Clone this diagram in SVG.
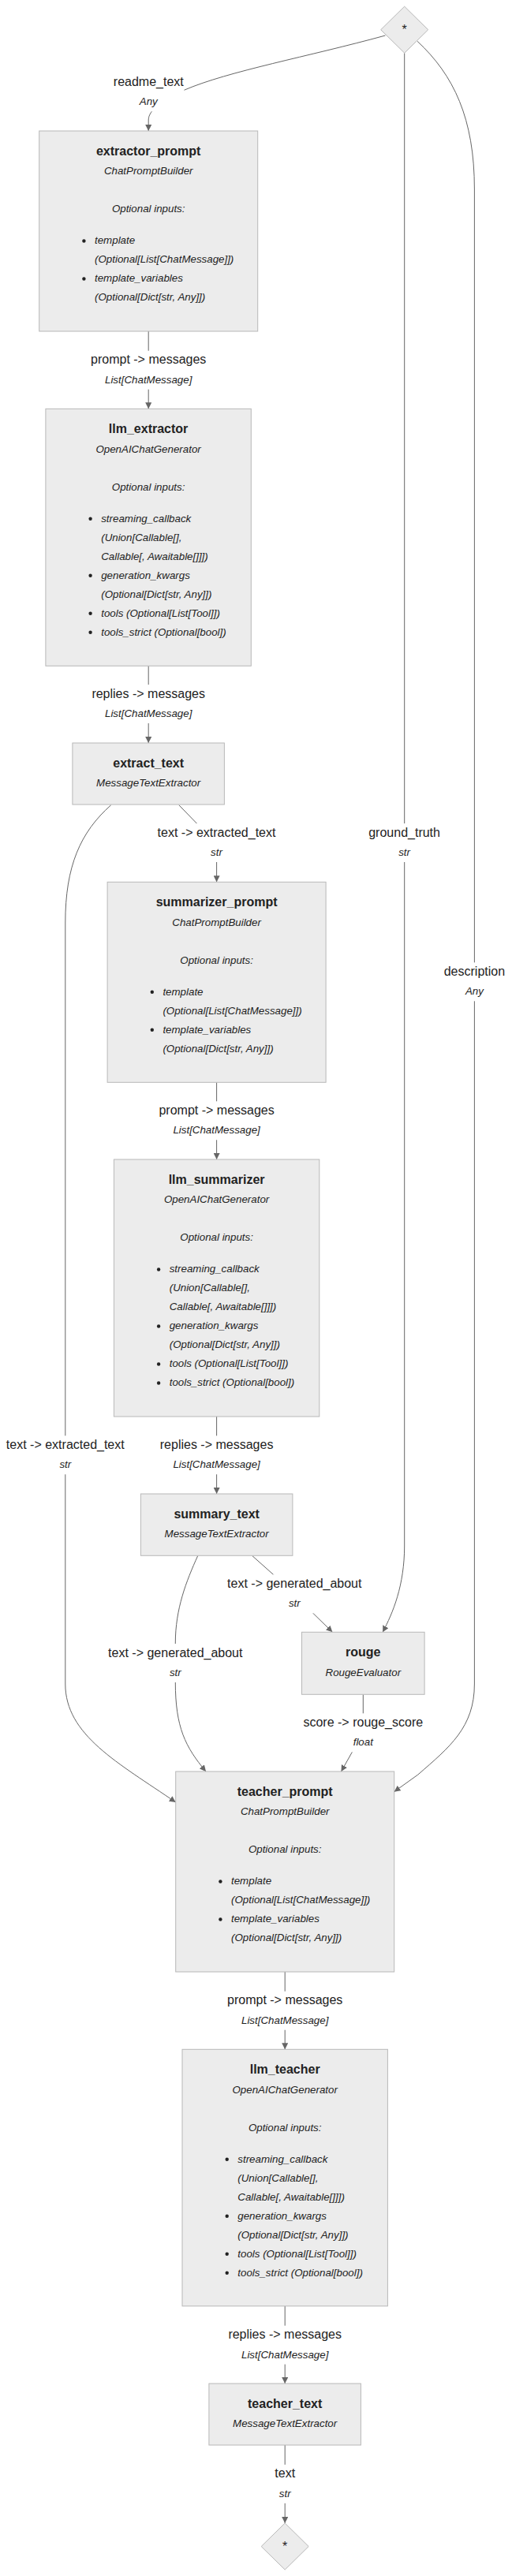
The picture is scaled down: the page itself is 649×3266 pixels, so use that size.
<svg xmlns="http://www.w3.org/2000/svg" width="649" height="3266" viewBox="0 0 649 3266">
<defs>
<style>
.box{fill:#ececec;stroke:#b8b8b8;stroke-width:1}
.edge{fill:none;stroke:#666;stroke-width:1}
.lb{fill:#fff}
text{font-family:"Liberation Sans",Arial,sans-serif;fill:#222}
.ti{font-size:16px;font-weight:bold;text-anchor:middle}
.su{font-size:13.33px;font-style:italic;text-anchor:middle}
.it{font-size:13.33px;font-style:italic}
.en{font-size:16px;text-anchor:middle}
.et{font-size:13.33px;font-style:italic;text-anchor:middle}
.st{font-size:16px;text-anchor:middle}
.bu{fill:#222}
</style>
<marker id="arr" viewBox="0 0 10 10" refX="10" refY="5" markerWidth="8" markerHeight="8" markerUnits="userSpaceOnUse" orient="auto">
<path d="M0,0 L10,5 L0,10 z" fill="#666"/>
</marker>
</defs>
<rect width="649" height="3266" fill="#fff"/>

<g id="connectors">
<path class="edge" marker-end="url(#arr)" d="M488.4,45 C390,72 290,90 234,114 C205,127 188.2,140 188.2,152 L188.2,166"/>
<path class="edge" marker-end="url(#arr)" d="M188.2,420 L188.2,518.3"/>
<path class="edge" marker-end="url(#arr)" d="M188.2,844.3 L188.2,942"/>
<path class="edge" marker-end="url(#arr)" d="M226.8,1020.7 L250.4,1045 Q274.6,1069 274.6,1093 L274.6,1118.3"/>
<path class="edge" marker-end="url(#arr)" d="M140.7,1020.7 C102,1055 82.8,1098 82.8,1170 L82.8,2135 C82.8,2200 150,2235 222.7,2285"/>
<path class="edge" marker-end="url(#arr)" d="M274.6,1372.3 L274.6,1470"/>
<path class="edge" marker-end="url(#arr)" d="M274.6,1796 L274.6,1894"/>
<path class="edge" marker-end="url(#arr)" d="M250.8,1972.3 C236,2005 222.3,2040 222.3,2083 L222.3,2133 C222.3,2190 235,2215 261,2246"/>
<path class="edge" marker-end="url(#arr)" d="M319.5,1972.3 L346.9,1996.7 L396.5,2045 L421.4,2069.3"/>
<path class="edge" marker-end="url(#arr)" d="M512.7,67.3 L512.7,1960 C512.7,2010 498,2045 485.1,2069.3"/>
<path class="edge" marker-end="url(#arr)" d="M460.3,2148.3 L460.3,2175 C460.3,2200 452,2210 446.2,2221.7 L432.5,2246"/>
<path class="edge" marker-end="url(#arr)" d="M529,52.3 C575,95 601.4,150 601.4,240 L601.4,2135 C601.4,2190 570,2215 529.8,2250 L499.6,2271.7"/>
<path class="edge" marker-end="url(#arr)" d="M361.2,2500 L361.2,2598.3"/>
<path class="edge" marker-end="url(#arr)" d="M361.2,2923.8 L361.2,3022"/>
<path class="edge" marker-end="url(#arr)" d="M361.2,3100 L361.2,3199"/>
</g>

<g id="edge-labels">
<rect class="lb" x="143.5" y="92.3" width="90" height="49"/>
<text class="en" x="188.3" y="108.8">readme_text</text>
<text class="et" x="188.3" y="133.2">Any</text>

<rect class="lb" x="114.7" y="444.7" width="147" height="49"/>
<text class="en" x="188.2" y="461.2">prompt -&gt; messages</text>
<text class="et" x="188.2" y="485.6">List[ChatMessage]</text>

<rect class="lb" x="116.2" y="868" width="144" height="49"/>
<text class="en" x="188.2" y="884.5">replies -&gt; messages</text>
<text class="et" x="188.2" y="908.9">List[ChatMessage]</text>

<rect class="lb" x="199" y="1044" width="151" height="49"/>
<text class="en" x="274.5" y="1060.5">text -&gt; extracted_text</text>
<text class="et" x="274.5" y="1084.9">str</text>

<rect class="lb" x="467.2" y="1044" width="91" height="49"/>
<text class="en" x="512.6" y="1060.5">ground_truth</text>
<text class="et" x="512.6" y="1084.9">str</text>

<rect class="lb" x="563" y="1220.3" width="77" height="49"/>
<text class="en" x="601.4" y="1236.8">description</text>
<text class="et" x="601.4" y="1261.2">Any</text>

<rect class="lb" x="201" y="1396.3" width="147" height="49"/>
<text class="en" x="274.6" y="1412.8">prompt -&gt; messages</text>
<text class="et" x="274.6" y="1437.2">List[ChatMessage]</text>

<rect class="lb" x="7.3" y="1820.3" width="151" height="49"/>
<text class="en" x="82.8" y="1836.8">text -&gt; extracted_text</text>
<text class="et" x="82.8" y="1861.2">str</text>

<rect class="lb" x="202.6" y="1820.3" width="144" height="49"/>
<text class="en" x="274.6" y="1836.8">replies -&gt; messages</text>
<text class="et" x="274.6" y="1861.2">List[ChatMessage]</text>

<rect class="lb" x="287.8" y="1996.3" width="171" height="49"/>
<text class="en" x="373.3" y="2012.8">text -&gt; generated_about</text>
<text class="et" x="373.3" y="2037.2">str</text>

<rect class="lb" x="136.8" y="2084" width="171" height="49"/>
<text class="en" x="222.3" y="2100.5">text -&gt; generated_about</text>
<text class="et" x="222.3" y="2124.9">str</text>

<rect class="lb" x="384.3" y="2172.3" width="152" height="49"/>
<text class="en" x="460.3" y="2188.8">score -&gt; rouge_score</text>
<text class="et" x="460.3" y="2213.2">float</text>

<rect class="lb" x="287.7" y="2524.7" width="147" height="49"/>
<text class="en" x="361.2" y="2541.2">prompt -&gt; messages</text>
<text class="et" x="361.2" y="2565.6">List[ChatMessage]</text>

<rect class="lb" x="289.2" y="2948.6" width="144" height="49"/>
<text class="en" x="361.2" y="2965.1">replies -&gt; messages</text>
<text class="et" x="361.2" y="2989.5">List[ChatMessage]</text>

<rect class="lb" x="347" y="3124.8" width="28" height="49"/>
<text class="en" x="361.2" y="3141.3">text</text>
<text class="et" x="361.2" y="3165.7">str</text>
</g>

<g id="input">
<polygon class="box" points="512.7,8.2 542.7,37.7 512.7,67.2 482.7,37.7"/>
<text class="st" x="512.7" y="43.3">*</text>
</g>

<g id="extractor_prompt">
<rect class="box" x="49.7" y="166" width="277" height="254"/>
<text class="ti" x="188.2" y="197">extractor_prompt</text>
<text class="su" x="188.2" y="221.2">ChatPromptBuilder</text>
<text class="su" x="188.2" y="269.3">Optional inputs:</text>
<circle class="bu" cx="106.4" cy="305.5" r="2.2"/>
<text class="it" x="120" y="309.3">template</text>
<text class="it" x="120" y="333.3">(Optional[List[ChatMessage]])</text>
<circle class="bu" cx="106.4" cy="353.5" r="2.2"/>
<text class="it" x="120" y="357.3">template_variables</text>
<text class="it" x="120" y="381.3">(Optional[Dict[str, Any]])</text>
</g>

<g id="llm_extractor">
<rect class="box" x="57.9" y="518.3" width="260.4" height="326"/>
<text class="ti" x="188.1" y="549.3">llm_extractor</text>
<text class="su" x="188.1" y="573.5">OpenAIChatGenerator</text>
<text class="su" x="188.1" y="621.6">Optional inputs:</text>
<circle class="bu" cx="114.6" cy="657.8" r="2.2"/>
<text class="it" x="128.2" y="661.6">streaming_callback</text>
<text class="it" x="128.2" y="685.6">(Union[Callable[],</text>
<text class="it" x="128.2" y="709.6">Callable[, Awaitable[]]])</text>
<circle class="bu" cx="114.6" cy="729.8" r="2.2"/>
<text class="it" x="128.2" y="733.6">generation_kwargs</text>
<text class="it" x="128.2" y="757.6">(Optional[Dict[str, Any]])</text>
<circle class="bu" cx="114.6" cy="777.8" r="2.2"/>
<text class="it" x="128.2" y="781.6">tools (Optional[List[Tool]])</text>
<circle class="bu" cx="114.6" cy="801.8" r="2.2"/>
<text class="it" x="128.2" y="805.6">tools_strict (Optional[bool])</text>
</g>

<g id="extract_text">
<rect class="box" x="91.9" y="942" width="192.5" height="78"/>
<text class="ti" x="188.15" y="972.8">extract_text</text>
<text class="su" x="188.15" y="997.4">MessageTextExtractor</text>
</g>

<g id="summarizer_prompt">
<rect class="box" x="136.1" y="1118.3" width="277" height="254"/>
<text class="ti" x="274.6" y="1149.3">summarizer_prompt</text>
<text class="su" x="274.6" y="1173.5">ChatPromptBuilder</text>
<text class="su" x="274.6" y="1221.6">Optional inputs:</text>
<circle class="bu" cx="192.8" cy="1257.8" r="2.2"/>
<text class="it" x="206.4" y="1261.6">template</text>
<text class="it" x="206.4" y="1285.6">(Optional[List[ChatMessage]])</text>
<circle class="bu" cx="192.8" cy="1305.8" r="2.2"/>
<text class="it" x="206.4" y="1309.6">template_variables</text>
<text class="it" x="206.4" y="1333.6">(Optional[Dict[str, Any]])</text>
</g>

<g id="llm_summarizer">
<rect class="box" x="144.4" y="1470" width="260.4" height="326"/>
<text class="ti" x="274.6" y="1501">llm_summarizer</text>
<text class="su" x="274.6" y="1525.2">OpenAIChatGenerator</text>
<text class="su" x="274.6" y="1573.3">Optional inputs:</text>
<circle class="bu" cx="201.1" cy="1609.5" r="2.2"/>
<text class="it" x="214.7" y="1613.3">streaming_callback</text>
<text class="it" x="214.7" y="1637.3">(Union[Callable[],</text>
<text class="it" x="214.7" y="1661.3">Callable[, Awaitable[]]])</text>
<circle class="bu" cx="201.1" cy="1681.5" r="2.2"/>
<text class="it" x="214.7" y="1685.3">generation_kwargs</text>
<text class="it" x="214.7" y="1709.3">(Optional[Dict[str, Any]])</text>
<circle class="bu" cx="201.1" cy="1729.5" r="2.2"/>
<text class="it" x="214.7" y="1733.3">tools (Optional[List[Tool]])</text>
<circle class="bu" cx="201.1" cy="1753.5" r="2.2"/>
<text class="it" x="214.7" y="1757.3">tools_strict (Optional[bool])</text>
</g>

<g id="summary_text">
<rect class="box" x="178.4" y="1894" width="192.5" height="78.3"/>
<text class="ti" x="274.65" y="1924.8">summary_text</text>
<text class="su" x="274.65" y="1949.4">MessageTextExtractor</text>
</g>

<g id="rouge">
<rect class="box" x="382.5" y="2069.3" width="155.6" height="79"/>
<text class="ti" x="460.3" y="2100.1">rouge</text>
<text class="su" x="460.3" y="2124.7">RougeEvaluator</text>
</g>

<g id="teacher_prompt">
<rect class="box" x="222.7" y="2246" width="277" height="254"/>
<text class="ti" x="361.2" y="2277">teacher_prompt</text>
<text class="su" x="361.2" y="2301.2">ChatPromptBuilder</text>
<text class="su" x="361.2" y="2349.3">Optional inputs:</text>
<circle class="bu" cx="279.4" cy="2385.5" r="2.2"/>
<text class="it" x="293" y="2389.3">template</text>
<text class="it" x="293" y="2413.3">(Optional[List[ChatMessage]])</text>
<circle class="bu" cx="279.4" cy="2433.5" r="2.2"/>
<text class="it" x="293" y="2437.3">template_variables</text>
<text class="it" x="293" y="2461.3">(Optional[Dict[str, Any]])</text>
</g>

<g id="llm_teacher">
<rect class="box" x="231" y="2598.3" width="260.4" height="325.5"/>
<text class="ti" x="361.2" y="2629.3">llm_teacher</text>
<text class="su" x="361.2" y="2653.5">OpenAIChatGenerator</text>
<text class="su" x="361.2" y="2701.6">Optional inputs:</text>
<circle class="bu" cx="287.7" cy="2737.8" r="2.2"/>
<text class="it" x="301.3" y="2741.6">streaming_callback</text>
<text class="it" x="301.3" y="2765.6">(Union[Callable[],</text>
<text class="it" x="301.3" y="2789.6">Callable[, Awaitable[]]])</text>
<circle class="bu" cx="287.7" cy="2809.8" r="2.2"/>
<text class="it" x="301.3" y="2813.6">generation_kwargs</text>
<text class="it" x="301.3" y="2837.6">(Optional[Dict[str, Any]])</text>
<circle class="bu" cx="287.7" cy="2857.8" r="2.2"/>
<text class="it" x="301.3" y="2861.6">tools (Optional[List[Tool]])</text>
<circle class="bu" cx="287.7" cy="2881.8" r="2.2"/>
<text class="it" x="301.3" y="2885.6">tools_strict (Optional[bool])</text>
</g>

<g id="teacher_text">
<rect class="box" x="264.9" y="3022" width="192.5" height="78"/>
<text class="ti" x="361.15" y="3052.8">teacher_text</text>
<text class="su" x="361.15" y="3077.4">MessageTextExtractor</text>
</g>

<g id="output">
<polygon class="box" points="361.2,3199 391.2,3228.5 361.2,3258 331.2,3228.5"/>
<text class="st" x="361.2" y="3234">*</text>
</g>
</svg>
